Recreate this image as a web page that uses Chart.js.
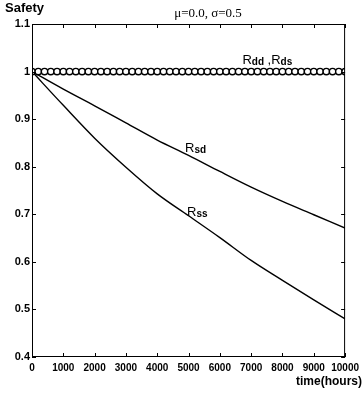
<!DOCTYPE html>
<html><head><meta charset="utf-8">
<script src="https://cdn.jsdelivr.net/npm/chart.js@4"></script>
<style>html,body{margin:0;padding:0;background:#fff}canvas{display:block}</style>
</head><body>
<canvas id="c" width="364" height="395"></canvas>
<script>
// ---- data ----
const times = [0, 1000, 2000, 3000, 4000, 5000, 6000, 7000, 8000, 9000, 10000];
const rsd = [1.0, 0.963, 0.928, 0.892, 0.856, 0.824, 0.790, 0.757, 0.727, 0.699, 0.671];
const rss = [1.0, 0.929, 0.860, 0.799, 0.743, 0.697, 0.651, 0.603, 0.561, 0.520, 0.480];
const rddTimes = [0,200,400,600,800,1000,1200,1400,1600,1800,2000,2200,2400,2600,2800,3000,3200,3400,3600,3800,4000,4200,4400,4600,4800,5000,5200,5400,5600,5800,6000,6200,6400,6600,6800,7000,7200,7400,7600,7800,8000,8200,8400,8600,8800,9000,9200,9400,9600,9800,10000];
const rddValues = [1,1,1,1,1,1,1,1,1,1,1,1,1,1,1,1,1,1,1,1,1,1,1,1,1,1,1,1,1,1,1,1,1,1,1,1,1,1,1,1,1,1,1,1,1,1,1,1,1,1,1];
const xTickLabels = ['0','1000','2000','3000','4000','5000','6000','7000','8000','9000','10000'];
const yTickLabels = ['0.4','0.5','0.6','0.7','0.8','0.9','1','1.1'];
const yTitle = 'Safety';
const xTitle = 'time(hours)';
const chartTitle = 'μ=0.0, σ=0.5';

const pts = (xs, ys) => xs.map((x, i) => ({x: x, y: ys[i]}));

const SANS = '"Liberation Sans", Arial, sans-serif';
const SERIF = '"Liberation Serif", "Times New Roman", serif';

function drawSub(ctx, x, y, main, sub) {
  ctx.font = '13px ' + SANS;
  ctx.fillText(main, x, y);
  const w = ctx.measureText(main).width;
  ctx.font = 'bold 10px ' + SANS;
  ctx.fillText(sub, x + w, y + 1);
  return x + w + ctx.measureText(sub).width;
}

const decor = {
  id: 'decor',
  afterDraw(chart) {
    const ctx = chart.ctx, a = chart.chartArea;
    const xs = chart.scales.x, ys = chart.scales.y;
    ctx.save();
    ctx.strokeStyle = '#000';
    ctx.lineWidth = 1;
    ctx.strokeRect(a.left + 0.5, a.top + 0.5, a.right - a.left - 1, a.bottom - a.top - 1);
    const tl = 4;
    ctx.beginPath();
    xs.ticks.forEach(t => {
      const px = Math.round(xs.getPixelForValue(t.value)) + 0.5;
      ctx.moveTo(px, a.bottom); ctx.lineTo(px, a.bottom - tl);
      ctx.moveTo(px, a.top); ctx.lineTo(px, a.top + tl);
    });
    ys.ticks.forEach(t => {
      const py = Math.round(ys.getPixelForValue(t.value)) + 0.5;
      ctx.moveTo(a.left, py); ctx.lineTo(a.left + tl, py);
      ctx.moveTo(a.right, py); ctx.lineTo(a.right - tl, py);
    });
    ctx.stroke();

    ctx.fillStyle = '#000';
    ctx.textBaseline = 'alphabetic';
    ctx.textAlign = 'left';
    ctx.font = 'bold 13px ' + SANS;
    ctx.fillText(yTitle, 5, 12);
    ctx.textAlign = 'center';
    ctx.font = '13px ' + SERIF;
    ctx.fillText(chartTitle, 208, 17);
    ctx.textAlign = 'right';
    ctx.font = 'bold 12px ' + SANS;
    ctx.fillText(xTitle, 362, 385);

    ctx.textAlign = 'left';
    let x = xs.getPixelForValue(6720), y = ys.getPixelForValue(1.016);
    x = drawSub(ctx, x, y, 'R', 'dd');
    ctx.font = '13px ' + SANS;
    ctx.fillText(' ,', x, y);
    x += ctx.measureText(' ,').width;
    drawSub(ctx, x, y, 'R', 'ds');
    drawSub(ctx, xs.getPixelForValue(4890), ys.getPixelForValue(0.831), 'R', 'sd');
    drawSub(ctx, xs.getPixelForValue(4953), ys.getPixelForValue(0.696), 'R', 'ss');
    ctx.restore();
  }
};

new Chart(document.getElementById('c'), {
  type: 'line',
  data: {
    datasets: [
      {label: 'Rsd', data: pts(times, rsd), borderColor: '#000', borderWidth: 1.4, pointRadius: 0, cubicInterpolationMode: 'monotone', order: 2},
      {label: 'Rss', data: pts(times, rss), borderColor: '#000', borderWidth: 1.4, pointRadius: 0, cubicInterpolationMode: 'monotone', order: 2},
      {label: 'Rdd,Rds', data: pts(rddTimes, rddValues), borderColor: '#000', borderWidth: 1.2, pointRadius: 3.2, pointBorderWidth: 1.4, pointBorderColor: '#000', pointBackgroundColor: '#fff', order: 1}
    ]
  },
  options: {
    responsive: false,
    animation: false,
    devicePixelRatio: 1,
    layout: {padding: {top: 24, right: 15, bottom: 0, left: 0}},
    plugins: {legend: {display: false}, tooltip: {enabled: false}, title: {display: false}},
    scales: {
      x: {
        type: 'linear', min: 0, max: 10000,
        grid: {display: false, drawTicks: false},
        border: {display: false},
        ticks: {stepSize: 1000, autoSkip: false, maxRotation: 0, padding: 5, color: '#000',
                font: {family: SANS, size: 10, weight: 'bold'},
                callback: (v, i) => xTickLabels[i]},
        afterFit: s => { s.height = 38; }
      },
      y: {
        type: 'linear', min: 0.4, max: 1.1,
        grid: {display: false, drawTicks: false},
        border: {display: false},
        ticks: {stepSize: 0.1, autoSkip: false, padding: 2, color: '#000',
                font: {family: SANS, size: 11, weight: 'bold'},
                callback: (v, i) => yTickLabels[i]},
        afterFit: s => { s.width = 32; }
      }
    }
  },
  plugins: [decor]
});
</script>
</body></html>
